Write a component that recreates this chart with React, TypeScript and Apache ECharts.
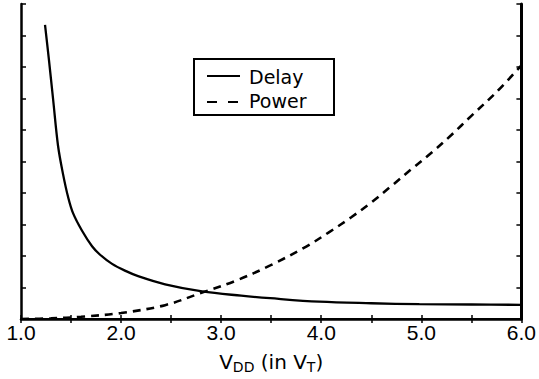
import React, { useEffect, useRef } from "react";
import * as echarts from "echarts";

const xTickLabels = ["1.0", "2.0", "3.0", "4.0", "5.0", "6.0"];
const legendNames = ["Delay", "Power"];

const delayVdd = [1.24, 1.28, 1.32, 1.37, 1.42, 1.47, 1.52, 1.61, 1.71, 1.79, 1.91, 2.05, 2.17, 2.44, 2.81, 3.2, 3.49, 3.98, 4.5, 4.98, 5.5, 6.0];
const delayValues = [9.34, 8.2, 7.0, 5.5, 4.6, 3.88, 3.36, 2.8, 2.31, 2.04, 1.75, 1.52, 1.36, 1.1, 0.875, 0.74, 0.66, 0.55, 0.5, 0.47, 0.46, 0.45];

const powerVdd = [1.0, 1.3, 1.6, 2.0, 2.44, 2.81, 3.15, 3.49, 3.85, 4.08, 4.3, 4.5, 4.7, 4.91, 5.11, 5.3, 5.5, 5.75, 6.0];
const powerValues = [0, 0.02, 0.07, 0.19, 0.44, 0.84, 1.22, 1.7, 2.3, 2.76, 3.23, 3.7, 4.22, 4.78, 5.3, 5.84, 6.45, 7.2, 8.05];

const TICK_FONT = "'Liberation Sans', Arial, Helvetica, sans-serif";
const TEXT_FONT = "'DejaVu Sans', sans-serif";

export default function App() {
  const ref = useRef<HTMLDivElement>(null);
  useEffect(() => {
    if (!ref.current) return;
    const chart = echarts.init(ref.current, undefined, { renderer: "svg" });
    const tick = { show: true, inside: true, length: 4, lineStyle: { color: "#000", width: 1.5 } };
    chart.setOption({
      animation: false,
      backgroundColor: "#fff",
      grid: { left: 21, right: 17, top: 4, bottom: 55, show: false },
      xAxis: [
        {
          type: "value",
          min: 1,
          max: 6,
          interval: 0.5,
          position: "bottom",
          axisLine: { show: true, lineStyle: { color: "#000", width: 2.5 } },
          axisTick: tick,
          splitLine: { show: false },
          axisLabel: {
            color: "#000",
            fontSize: 21,
            fontFamily: TICK_FONT,
            margin: 3,
            formatter: (v: number) => {
              const s = v.toFixed(1);
              return xTickLabels.includes(s) ? s : "";
            },
          },
          name: "{v|V}{s|DD}{v| (in V}{s|T}{v|)}",
          nameLocation: "middle",
          nameGap: 31,
          nameTextStyle: {
            fontSize: 20,
            fontFamily: TEXT_FONT,
            color: "#000",
            rich: {
              v: { fontSize: 20, fontFamily: TEXT_FONT, color: "#000", lineHeight: 24 },
              s: { fontSize: 14, fontFamily: TEXT_FONT, color: "#000", lineHeight: 14, verticalAlign: "bottom" },
            },
          },
        },
        {
          type: "value",
          min: 1,
          max: 6,
          interval: 0.5,
          position: "top",
          axisLine: { show: true, lineStyle: { color: "#000", width: 2 } },
          axisTick: tick,
          axisLabel: { show: false },
          splitLine: { show: false },
        },
      ],
      yAxis: [
        {
          type: "value",
          min: 0,
          max: 10,
          interval: 1,
          position: "left",
          axisLine: { show: true, lineStyle: { color: "#000", width: 2.5 } },
          axisTick: { ...tick, length: 5 },
          axisLabel: { show: false },
          splitLine: { show: false },
        },
        {
          type: "value",
          min: 0,
          max: 10,
          interval: 1,
          position: "right",
          axisLine: { show: true, lineStyle: { color: "#000", width: 3 } },
          axisTick: { ...tick, length: 5 },
          axisLabel: { show: false },
          splitLine: { show: false },
        },
      ],
      series: [
        {
          name: legendNames[0],
          type: "line",
          smooth: 0.35,
          symbol: "none",
          data: delayVdd.map((x, i) => [x, delayValues[i]]),
          lineStyle: { color: "#000", width: 2.3 },
        },
        {
          name: legendNames[1],
          type: "line",
          smooth: 0.35,
          symbol: "none",
          data: powerVdd.map((x, i) => [x, powerValues[i]]),
          lineStyle: { color: "#000", width: 2.6, type: [8, 6] },
        },
      ],
      graphic: [
        {
          type: "rect",
          shape: { x: 194, y: 59, width: 140, height: 56 },
          style: { fill: "#fff", stroke: "#000", lineWidth: 2 },
          z: 10,
        },
        {
          type: "line",
          shape: { x1: 207, y1: 76, x2: 240, y2: 76 },
          style: { stroke: "#000", lineWidth: 2 },
          z: 11,
        },
        {
          type: "line",
          shape: { x1: 207, y1: 102, x2: 240, y2: 102 },
          style: { stroke: "#000", lineWidth: 2, lineDash: [10, 11] },
          z: 11,
        },
        {
          type: "text",
          x: 249,
          y: 77,
          style: { text: legendNames[0], fontSize: 19, fontFamily: TEXT_FONT, fill: "#000", verticalAlign: "middle" },
          z: 11,
        },
        {
          type: "text",
          x: 249,
          y: 101,
          style: { text: legendNames[1], fontSize: 19, fontFamily: TEXT_FONT, fill: "#000", verticalAlign: "middle" },
          z: 11,
        },
      ],
    });
    return () => chart.dispose();
  }, []);
  return <div ref={ref} style={{ width: 539, height: 379, position: "absolute", left: 0, top: 0 }} />;
}
